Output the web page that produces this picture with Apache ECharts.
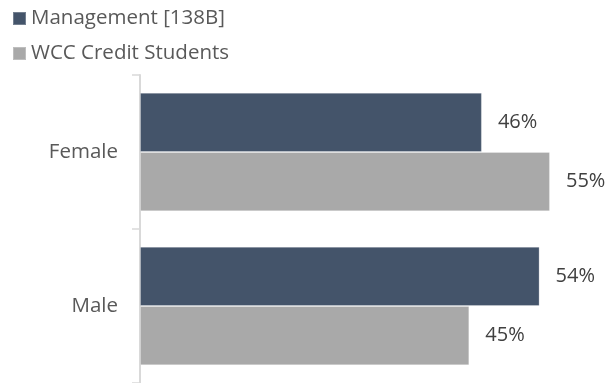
<!DOCTYPE html>
<html>
<head>
<meta charset="utf-8">
<script src="https://cdn.jsdelivr.net/npm/echarts@6/dist/echarts.min.js"></script>
<style>
  html, body { margin: 0; padding: 0; background: #fff; }
  #chart { width: 612px; height: 383px; }
</style>
</head>
<body>
<div id="chart"></div>
<script>
// categories, top to bottom
const categories = ["Female", "Male"];
// percent values
const managementValues = [46.2, 54.0];
const studentValues = [55.4, 44.5];
const seriesNames = ["Management [138B]", "WCC Credit Students"];

const chart = echarts.init(document.getElementById("chart"));

const labelStyle = {
  show: true,
  position: "right",
  distance: 16,
  fontFamily: "Open Sans",
  fontSize: 20,
  color: "#404040",
  formatter: (p) => Math.round(p.value) + "%",
};

const option = {
  animation: false,
  legend: {
    orient: "vertical",
    left: 12,
    top: 8,
    padding: 0,
    itemWidth: 13,
    itemHeight: 13,
    itemGap: 14,
    icon: "rect",
    textStyle: { fontFamily: "Open Sans", fontSize: 20.5, color: "#595959" },
    data: seriesNames,
  },
  grid: {
    left: 140,
    top: 75,
    width: 444,
    height: 310,
  },
  xAxis: {
    type: "value",
    min: 0,
    max: 60,
    show: false,
  },
  yAxis: {
    type: "category",
    data: categories,
    inverse: true,
    axisLine: { show: true, lineStyle: { color: "#d9d9d9", width: 2 } },
    axisTick: { show: true, length: 8, lineStyle: { color: "#d9d9d9", width: 1.5 } },
    axisLabel: {
      margin: 22,
      fontFamily: "Open Sans",
      fontSize: 20.5,
      color: "#595959",
    },
  },
  series: [
    {
      name: seriesNames[0],
      type: "bar",
      data: managementValues,
      barGap: "0%",
      barCategoryGap: "23%",
      itemStyle: { color: "#44546A", borderColor: "rgba(255,255,255,0.25)", borderWidth: 1 },
      label: labelStyle,
    },
    {
      name: seriesNames[1],
      type: "bar",
      data: studentValues,
      barGap: "0%",
      barCategoryGap: "23%",
      itemStyle: { color: "#A9A9A9", borderColor: "rgba(255,255,255,0.25)", borderWidth: 1 },
      label: labelStyle,
    },
  ],
};

chart.setOption(option);
</script>
</body>
</html>
